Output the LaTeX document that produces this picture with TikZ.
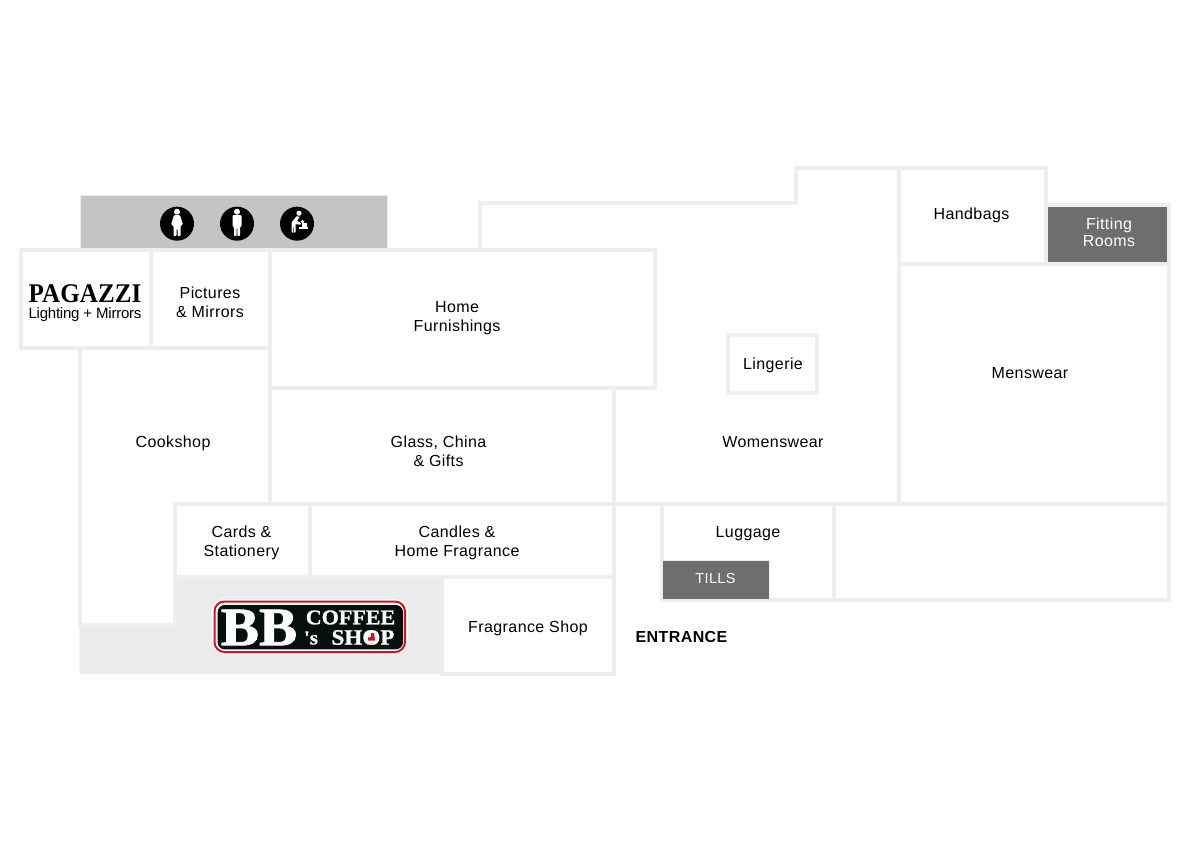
\documentclass[tikz,border=0pt]{standalone}
\usepackage{fontspec}
\usepackage{xcolor}
\setmainfont[LetterSpace=2.5]{Liberation Sans}
\newfontfamily\decofont[BoldFeatures={FakeStretch=.93}]{Liberation Serif}
\newfontfamily\signfont[BoldFeatures={FakeBold=1,FakeStretch=1.05}]{Liberation Serif}
\newfontfamily\bbfont[BoldFeatures={FakeStretch=1.06,FakeBold=1.5}]{Liberation Serif}
\definecolor{wallgrey}{HTML}{EEEEEE}
\definecolor{cafegrey}{HTML}{EBEBEB}
\definecolor{wcgrey}{HTML}{C4C4C4}
\definecolor{tillgrey}{HTML}{6E6E6E}
\definecolor{logoblack}{HTML}{050F0D}
\definecolor{logored}{HTML}{D8101C}
\tikzset{
  wall/.style={draw=wallgrey,line width=4pt,line cap=rect},
  room/.style={align=center,inner sep=0pt,font=\fontsize{16}{19}\selectfont},
  whiteroom/.style={align=center,inner sep=0pt,text=white,font=\fontsize{16}{17}\selectfont},
}

\begin{document}
\begin{tikzpicture}[x=1pt,y=-1pt]
  \useasboundingbox (0,0) rectangle (1191,842);
  % floor fills
  \fill[cafegrey] (174.7,575) -- (442,575) -- (442,674) -- (79.3,674) -- (79.3,625) -- (174.7,625) -- cycle;
  \draw[draw=wallgrey,line width=1pt,fill=wcgrey] (80.5,196) rectangle (387,250);
  \fill[tillgrey] (1048,206.7) rectangle (1167,262);
  % outer and inner walls
  \draw[wall] (21.3,250.5)
    -- ++(633.2,0) -- ++(0,137.5) -- ++(-40.5,0) -- ++(0,285.5)
    -- ++(-172,0) -- ++(0,-96.5)
    (21.3,250.5) -- ++(0,97.5) -- ++(248.4,0)
    (80.3,348) -- ++(0,277) -- ++(94.4,0) -- ++(0,-121.3) -- ++(994.3,0)
    (151,250.5) -- ++(0,97.5)
    (269.7,250.5) -- ++(0,253.2)
    (269.7,388) -- ++(344.3,0)
    (310,503.7) -- ++(0,73.3)
    (174.7,577) -- ++(439.3,0)
    (480,250.5) -- ++(0,-47.2) -- ++(316,0) -- ++(0,-35.3) -- ++(250,0) -- ++(0,96)
    (898.7,168) -- ++(0,335.7)
    (898.7,264) -- ++(270.3,0)
    (1046,204.7) -- ++(123,0) -- ++(0,395.3) -- ++(-507.5,0) -- ++(0,-96.3)
    (833.7,503.7) -- ++(0,96.3)
    (728,335) rectangle ++(89,58);
  \draw[draw=wallgrey,line width=1pt,fill=tillgrey] (662.3,560) rectangle (769,599);
  % toilets
  \foreach \iconx in {177,237,297}
    \fill[black] (\iconx,223.7) circle (17);
  \begin{scope}[shift={(177,223.7)}]
    \fill[white] (0,-12) circle (3);
    \fill[white,rounded corners=1pt] (-3,-8.5) -- (3,-8.5) -- (6,1) -- (3.5,2) -- (3.5,12.5) -- (.5,12.5)
      -- (.5,5) -- (-.5,5) -- (-.5,12.5) -- (-3.5,12.5) -- (-3.5,2) -- (-6,1) -- cycle;
  \end{scope}
  \begin{scope}[shift={(237,223.7)}]
    \fill[white] (0,-12) circle (3);
    \fill[white,rounded corners=1pt] (-4.5,-8.5) -- (4.5,-8.5) -- (4.5,3) -- (3,3) -- (3,12.5) -- (.4,12.5)
      -- (.4,4) -- (-.4,4) -- (-.4,12.5) -- (-3,12.5) -- (-3,3) -- (-4.5,3) -- cycle;
  \end{scope}
  \begin{scope}[shift={(297,223.7)}]
    \fill[white] (2,-10.5) circle (2.6);
    \fill[white,rounded corners=.5pt] (-.5,-7.5) -- (3,-7) -- (0,-3) -- (4,-.5) -- (3.5,1) -- (-1.5,.5) -- (-1.5,9)
      -- (-3,9) -- (-3,3) -- (-3.7,3) -- (-3.7,9) -- (-5.3,9) -- (-5.3,-1.5) -- cycle;
    \fill[white] (5.5,-2) circle (1.8);
    \fill[white] (1.5,3) rectangle (11,5.2);
    \fill[white] (5,-1) rectangle (10,3);
  \end{scope}
  % coffee shop sign
  \draw[draw=white,line width=2pt,fill=white,rounded corners=12pt] (212.5,600) rectangle (407,653.5);
  \draw[draw=logored,line width=2pt,fill=white,rounded corners=10pt] (214.5,601.5) rectangle (405,652);
  \fill[logoblack,rounded corners=7pt] (217.7,605) rectangle (403,649.3);
  \node (bb) [inner sep=0pt,text=white] at (259,627.5)
    {\fontsize{54}{54}\bbfont\bfseries BB};
  \node (apos) [inner sep=0pt,text=white] at (311,638)
    {\fontsize{20}{20}\signfont\bfseries 's};
  \node (coffee) [inner sep=0pt,text=white] at (350.5,617.5)
    {\fontsize{21}{21}\signfont\bfseries COFFEE};
  \node (shop) [inner sep=0pt,text=white] at (363,637.5)
    {\fontsize{22}{22}\signfont\bfseries SHOP};
  \fill[white] (371.5,637) circle (6.5);
  \fill[logored] (368,640.5) -- (368,637.5) -- (371,637) -- (371,633) -- (374,633) -- (375,640.5) -- cycle;
  % labels
  \node (pagazzi) [inner sep=0pt] at (85,294) {\fontsize{27}{27}\decofont\bfseries PAGAZZI};
  \node (lighting) [inner sep=0pt] at (85,315) {\fontsize{15}{15}\addfontfeature{LetterSpace=-1.5}\selectfont Lighting + Mirrors};
  \node (pictures) [room] at (210,302.5) {Pictures\\\& Mirrors};
  \node (home) [room] at (457,318.5) {Home\\Furnishings};
  \node (lingerie) [room] at (773,365) {Lingerie};
  \node (handbags) [room] at (971.5,215.5) {Handbags};
  \node (fitting) [whiteroom] at (1109,232) {Fitting\\Rooms};
  \node (menswear) [room] at (1030,373) {Menswear};
  \node (cookshop) [room] at (173,443) {Cookshop};
  \node (glass) [room] at (438.5,451) {Glass, China\\\& Gifts};
  \node (womenswear) [room] at (773,442) {Womenswear};
  \node (cards) [room] at (241.5,543) {Cards \&\\Stationery};
  \node (candles) [room] at (457,543) {Candles \&\\Home Fragrance};
  \node (fragrance) [room] at (528,628) {Fragrance Shop};
  \node (luggage) [room] at (748,533.5) {Luggage};
  \node (tills) [inner sep=0pt,text=white] at (715.5,579) {\fontsize{14.5}{17}\selectfont TILLS};
  \node (entrance) [room] at (681.5,636.5) {\bfseries ENTRANCE};
\end{tikzpicture}
\end{document}
